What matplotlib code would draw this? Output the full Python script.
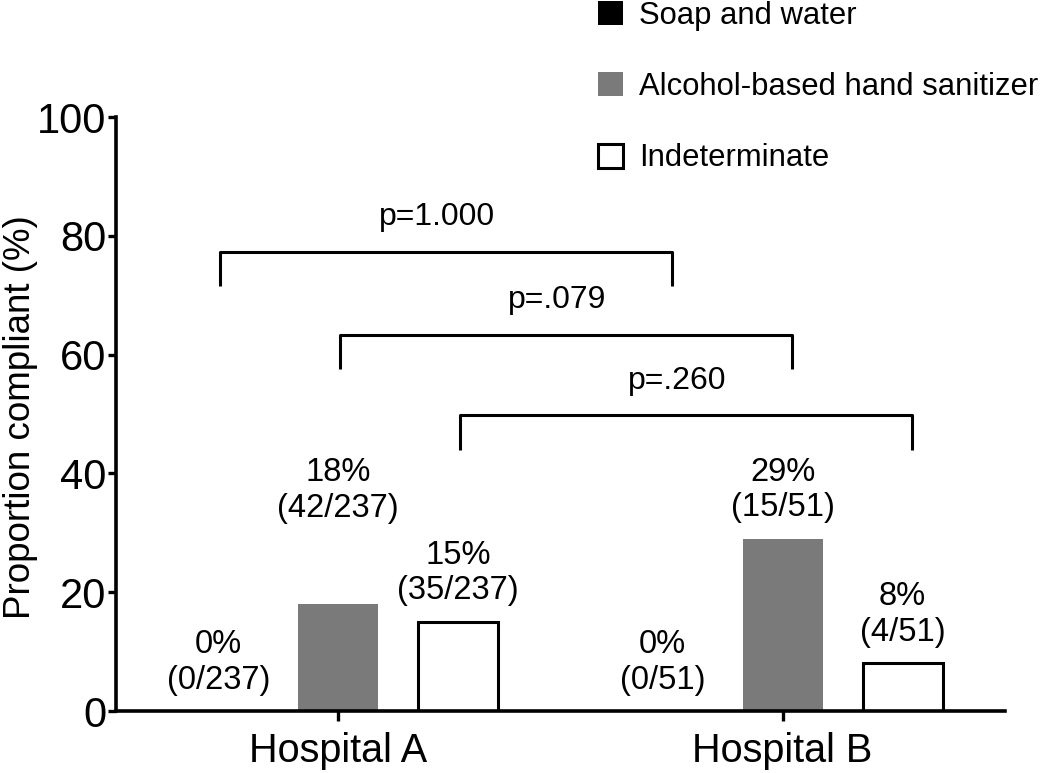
import numpy as np
import matplotlib
matplotlib.use("Agg")
import matplotlib.pyplot as plt

plt.rcParams['font.family'] = ['Liberation Sans', 'DejaVu Sans']

# data
hospitals = ["Hospital A", "Hospital B"]
series = ["Soap and water", "Alcohol-based hand sanitizer", "Indeterminate"]
values = {
    "Soap and water": [0, 0],
    "Alcohol-based hand sanitizer": [18, 29],
    "Indeterminate": [15, 8],
}
labels = {
    "Soap and water": ["0%\n(0/237)", "0%\n(0/51)"],
    "Alcohol-based hand sanitizer": ["18%\n(42/237)", "29%\n(15/51)"],
    "Indeterminate": ["15%\n(35/237)", "8%\n(4/51)"],
}
p_values = ["p=1.000", "p=.079", "p=.260"]
bracket_tops = [77.3, 63.3, 49.8]

face = {"Soap and water": "black", "Alcohol-based hand sanitizer": "#7a7a7a",
        "Indeterminate": "white"}
edge = {"Soap and water": "black", "Alcohol-based hand sanitizer": "#7a7a7a",
        "Indeterminate": "black"}
offsets = [-0.27, 0.0, 0.27]
width = 0.18
lw = 2.2

fig = plt.figure(figsize=(10.5, 7.73), dpi=100)
ax = fig.add_axes([0.1105, 0.0802, 0.8465, 0.7684])

x = np.arange(len(hospitals))
for i, s in enumerate(series):
    xs = x + offsets[i]
    ax.bar(xs, values[s], width, color=face[s],
           edgecolor=edge[s], linewidth=lw if s == "Indeterminate" else 0,
           label=s)
    for j, (xx, v) in enumerate(zip(xs, values[s])):
        # the 18% label was pushed up in the original to clear its neighbour
        off = 13.5 if (i == 1 and j == 0) else 2.6
        ax.text(xx, v + off, labels[s][j], ha='center', va='bottom',
                fontsize=23.5, linespacing=1.2)

# significance brackets: same category, Hospital A vs Hospital B
for i, (p, top) in enumerate(zip(p_values, bracket_tops)):
    x0 = x[0] + offsets[i] + 0.005
    x1 = x[1] + offsets[i] + 0.02
    ax.plot([x0, x0, x1, x1], [top - 5.8, top, top, top - 5.8],
            color='black', lw=lw, solid_capstyle='butt', clip_on=False)
    ax.text((x0 + x1) / 2 - 0.02, top + 3.3, p, ha='center', va='bottom',
            fontsize=23)

ax.set_xlim(-0.5, 1.5)
ax.set_ylim(0, 100)
ax.set_yticks([0, 20, 40, 60, 80, 100])
ax.set_xticks(x)
ax.set_xticklabels(hospitals)
ax.tick_params(axis='both', width=2.4, length=6)
ax.tick_params(axis='x', labelsize=28.5, length=7, pad=8)
ax.tick_params(axis='y', labelsize=30, pad=1)
ax.set_ylabel("Proportion compliant (%)", fontsize=26.5)
ax.yaxis.set_label_coords(-0.088, 0.494)

ax.spines['top'].set_visible(False)
ax.spines['right'].set_visible(False)
ax.spines['left'].set_linewidth(2.6)
ax.spines['bottom'].set_linewidth(2.6)

ax.legend(loc='upper left', bbox_to_anchor=(598 / 1050, 1 - 1 / 773),
          bbox_transform=fig.transFigure, frameon=False, fontsize=22.3,
          handlelength=0.82, handleheight=0.82, handletextpad=0.5,
          labelspacing=1.33, borderpad=0, borderaxespad=0)

fig.savefig("out.png", dpi=100)
